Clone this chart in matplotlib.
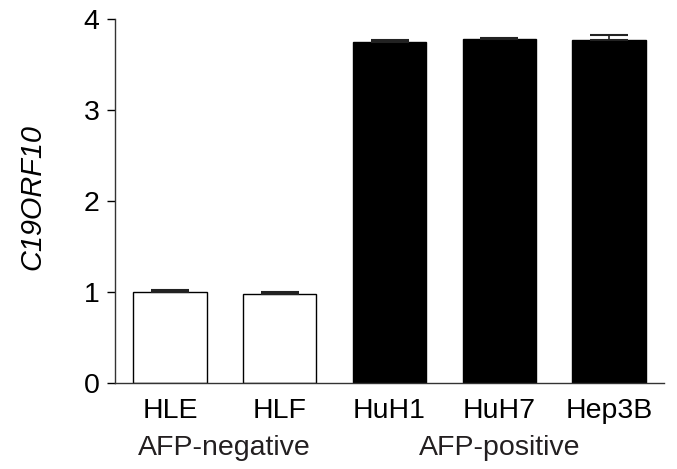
import matplotlib
matplotlib.use("Agg")
import matplotlib.pyplot as plt
import matplotlib.transforms as mtransforms

plt.rcParams['font.family'] = ['Liberation Sans', 'DejaVu Sans']

categories = ["HLE", "HLF", "HuH1", "HuH7", "Hep3B"]
values = [1.00, 0.975, 3.745, 3.78, 3.77]
errors = [0.02, 0.02, 0.02, 0.015, 0.05]
face_colors = ["white", "white", "black", "black", "black"]
groups = ["AFP-negative", "AFP-positive"]
group_centers = [0.5, 3.0]
y_ticks = [0, 1, 2, 3, 4]

fig = plt.figure(figsize=(6.77, 4.69), dpi=100)
ax = fig.add_axes([115/677, 1-383/469, 549/677, 364/469])

x = list(range(len(categories)))
ax.bar(x, values, width=0.67, color=face_colors, edgecolor="black", linewidth=1.0, zorder=2)
ax.errorbar(x, values, yerr=[[0]*len(errors), errors], fmt="none", ecolor="#222222",
            elinewidth=1.2, capsize=13.5, capthick=1.5, zorder=3)

ax.set_xlim(-0.5, 4.5)
ax.set_ylim(0, 4)
ax.set_yticks(y_ticks)
ax.set_xticks(x)
ax.set_xticklabels(categories)
ax.tick_params(axis='x', length=0, pad=11, labelsize=20.5)
ax.tick_params(axis='y', length=6, width=1.0, pad=5, labelsize=20.5)
for s in ["top", "right"]:
    ax.spines[s].set_visible(False)
for s in ["left", "bottom"]:
    ax.spines[s].set_linewidth(1.0)
    ax.spines[s].set_color("#333333")

ax.set_ylabel("C19ORF10", fontsize=20.8, style="italic")
ax.yaxis.set_label_coords(-0.125, 0.51)

trans = mtransforms.blended_transform_factory(ax.transData, ax.transAxes)
for g, c in zip(groups, group_centers):
    ax.text(c, -0.179, g, transform=trans, ha="center", va="center", fontsize=20.5, color="#231f20")

fig.savefig("out.png", dpi=100)
